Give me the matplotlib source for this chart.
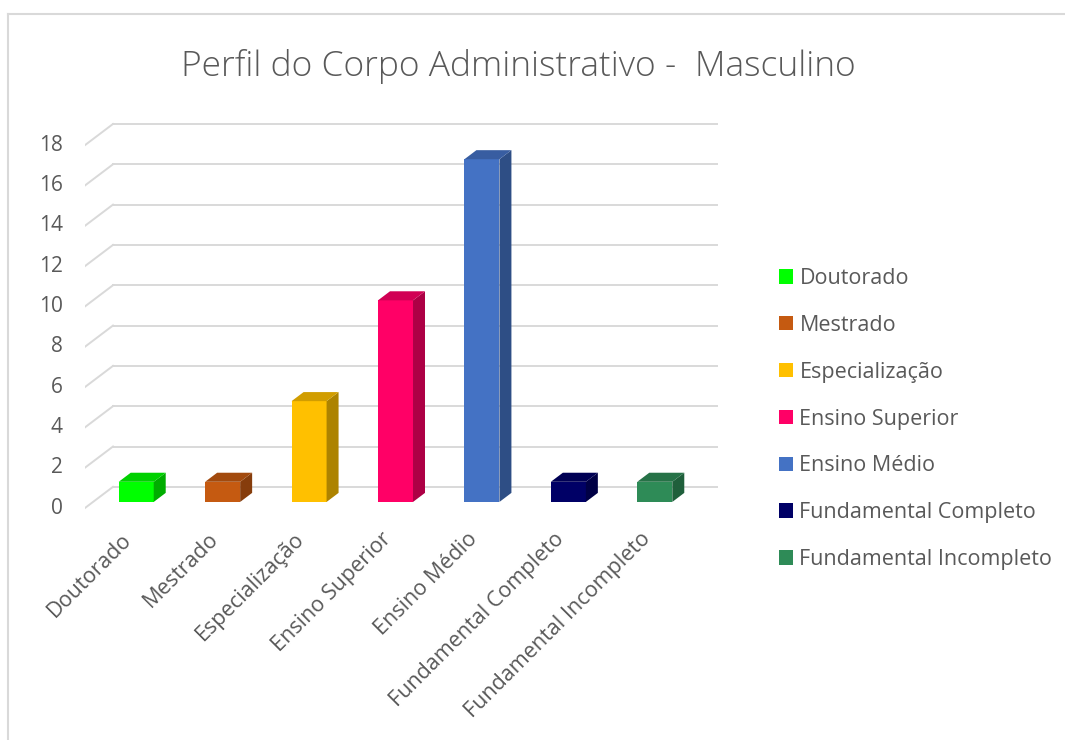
import matplotlib.pyplot as plt
import matplotlib.colors as mcolors
from matplotlib.patches import Polygon, Patch
from matplotlib.lines import Line2D

# Chart data
categories = ["Doutorado", "Mestrado", "Especialização", "Ensino Superior",
              "Ensino Médio", "Fundamental Completo", "Fundamental Incompleto"]
values = [1, 1, 5, 10, 17, 1, 1]
colors = ["#00FF00", "#C55A11", "#FFC000", "#FF0066", "#4472C4", "#000066", "#2E8B57"]
yticks = [0, 2, 4, 6, 8, 10, 12, 14, 16, 18]
title = "Perfil do Corpo Administrativo -  Masculino"

plt.rcParams['font.family'] = ['Open Sans', 'DejaVu Sans']
textColor = "#595959"
gridColor = "#D9D9D9"

W, H = 1065, 740
fig = plt.figure(figsize=(W / 100, H / 100), dpi=100)

# Fake 3D: depth offset of the back wall, in data units
DX = 0.324
DY = 1.05
dFront, dBack = 0.286, 0.714
barWidth = 0.405

# Axes placed so that 1 category ~ 86 px and 1 unit ~ 20 px
yLo, yHi = -1.2, 19.6
pxPerUnit = 20.16
zeroPx = 508
axLeft, axRight = 85, 718
axTop = zeroPx - yHi * pxPerUnit
axBottom = zeroPx - yLo * pxPerUnit
ax = fig.add_axes([axLeft / W, 1 - axBottom / H, (axRight - axLeft) / W, (axBottom - axTop) / H])
ax.set_xlim(-0.5, len(categories) - 0.5 + DX)
ax.set_ylim(yLo, yHi)
ax.axis('off')

xLeft = -0.5
xRight = len(categories) - 0.5

# Back wall gridlines + left wall diagonals
for t in yticks:
    ax.plot([xLeft + DX, xRight + DX], [t + DY, t + DY], color=gridColor, lw=1.4, zorder=1)
    ax.plot([xLeft, xLeft + DX], [t, t + DY], color=gridColor, lw=1.4, zorder=1)
    ax.annotate(str(t), xy=(xLeft, t), xytext=(-16, 0), textcoords='offset points',
                ha='right', va='center', fontsize=15, color=textColor)

# Bars: front face via ax.bar, then side and top polygons
for i, (v, c) in enumerate(zip(values, colors)):
    rgb = mcolors.to_rgb(c)
    side = tuple(ch * 0.68 for ch in rgb)
    top = tuple(ch * 0.82 for ch in rgb)
    x0 = i - barWidth / 2 + dFront * DX
    x1 = i + barWidth / 2 + dFront * DX
    y0 = dFront * DY
    y1 = v + dFront * DY
    ox = (dBack - dFront) * DX
    oy = (dBack - dFront) * DY
    ax.bar(i + dFront * DX, v, width=barWidth, bottom=y0, color=c, zorder=3, linewidth=0)
    ax.add_patch(Polygon([(x1, y0), (x1 + ox, y0 + oy), (x1 + ox, y1 + oy), (x1, y1)],
                         closed=True, facecolor=side, edgecolor='none', zorder=3))
    ax.add_patch(Polygon([(x0, y1), (x1, y1), (x1 + ox, y1 + oy), (x0 + ox, y1 + oy)],
                         closed=True, facecolor=top, edgecolor='none', zorder=3))

# Category labels, rotated
for i, name in enumerate(categories):
    ax.annotate(name, xy=(i, 0), xytext=(-5, -15), textcoords='offset points',
                ha='right', va='top', rotation=45, rotation_mode='anchor',
                fontsize=15.5, color=textColor)

fig.text(518 / W, 1 - 66 / H, title, ha='center', va='center', fontsize=25.5,
         color=textColor, fontweight='light')

handles = [Patch(facecolor=c, edgecolor='none', label=n) for n, c in zip(categories, colors)]
fig.legend(handles=handles, loc='upper left', bbox_to_anchor=(779 / W, 1 - 268 / H),
           frameon=False, fontsize=15.5, labelcolor=textColor, handlelength=0.65,
           handleheight=0.65, handletextpad=0.3, labelspacing=1.2, borderpad=0,
           borderaxespad=0)

# Chart area border (left and top edges visible)
fig.add_artist(Line2D([8 / W, 8 / W], [0, 1 - 14 / H], color=gridColor, lw=1.5,
                      transform=fig.transFigure))
fig.add_artist(Line2D([8 / W, 1], [1 - 14 / H, 1 - 14 / H], color=gridColor, lw=1.5,
                      transform=fig.transFigure))

plt.savefig("out.png", dpi=100)
